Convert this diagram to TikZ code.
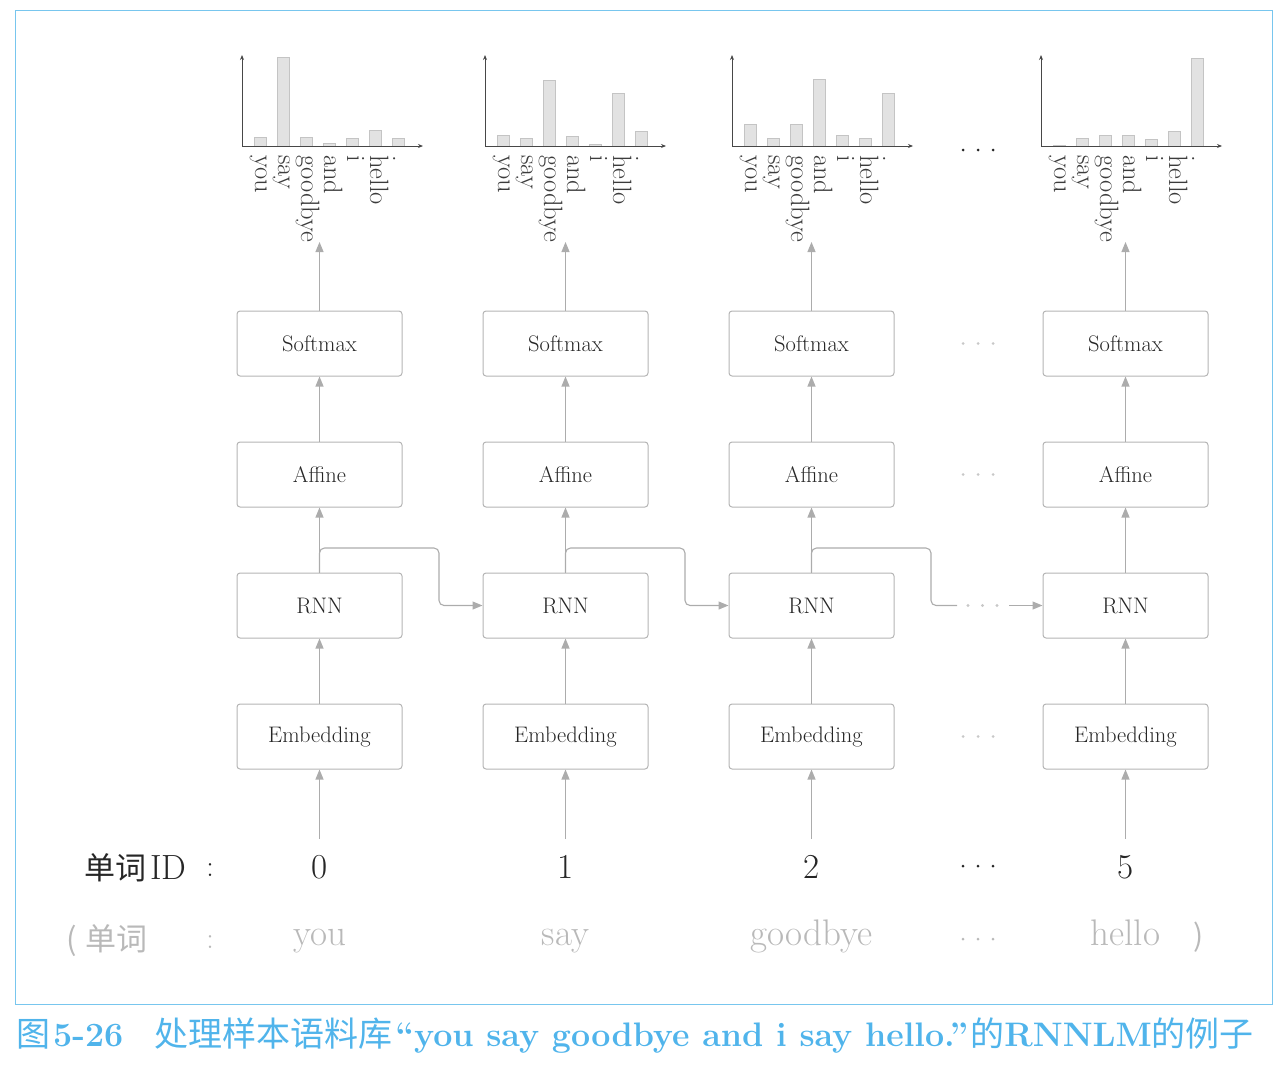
\documentclass[tikz,border=0pt]{standalone}
\usepackage{fontspec}
\newfontfamily\cjk{Noto Sans CJK SC}
\usetikzlibrary{arrows.meta}
\definecolor{boxline}{RGB}{180,180,180}
\definecolor{arr}{RGB}{172,172,172}
\definecolor{txt}{RGB}{38,38,38}
\definecolor{lite}{RGB}{185,185,185}
\definecolor{dotlite}{RGB}{200,200,200}
\definecolor{frame}{RGB}{120,198,238}
\definecolor{cap}{RGB}{80,180,235}
\definecolor{barfill}{RGB}{226,226,226}
\definecolor{barline}{RGB}{196,196,196}
\newcommand\fs[1]{\fontsize{#1}{#1}\selectfont}
\begin{document}
\begin{tikzpicture}[x=1pt,y=-1pt,
  blk/.style={draw=boxline, line width=1pt, rounded corners=3pt, minimum width=165pt,
    minimum height=65pt, inner sep=0pt, font=\fs{22.5}, text=txt},
  flow/.style={draw=arr, line width=1.1pt, -{Triangle[length=10pt,width=8pt]}},
  plain/.style={draw=arr, line width=1.1pt},
  axis/.style={draw=txt!85, line width=0.9pt, -{Stealth[length=5pt,width=4pt]}},
  bar/.style={fill=barfill, draw=barline, line width=0.8pt},
  wlab/.style={rotate=-90, anchor=west, font=\fs{26.5}, text=txt!90, inner sep=0pt,
    text height=0.69em, text depth=0.2em},
  numlab/.style={font=\fs{35}, text=txt, inner sep=0pt},
  wordlab/.style={anchor=base, font=\fs{37}, text=lite, inner sep=0pt},
]
\path[use as bounding box] (0,0) rectangle (1276,1066);
\draw[frame, line width=1.2pt] (15.5,10.5) rectangle (1272.5,1004.5);

\foreach \i/\cx/\ax/\num/\word/\hs in {
  1/319.5/242/0/you/{9,89,9,3,8,16,8},
  2/565.5/485/1/say/{11,8,66,10,2,53,15},
  3/811.5/732/2/goodbye/{22,8,22,67,11,8,53},
  4/1125.5/1041/5/hello/{1,8,11,11,7,15,88}} {
  % chart
  \foreach \h [count=\k from 0] in \hs {
    \draw[bar] (\ax+12.5+23*\k,146) rectangle ++(12,-\h);
  }
  \draw[axis] (\ax,146) -- (\ax,55);
  \draw[axis] (\ax,146) -- (\ax+181,146);
  \foreach \lab [count=\k from 0] in {you,say,goodbye,and,i,hello,.} {
    \node[wlab] (l\i-\k) at (\ax+15.5+23*\k,155) {\lab};
  }
  % blocks
  \node[blk] (sm\i)  at (\cx,343.5) {Softmax};
  \node[blk] (af\i)  at (\cx,474.5) {Affine};
  \node[blk] (rnn\i) at (\cx,605.5) {RNN};
  \node[blk] (emb\i) at (\cx,736.5) {Embedding};
  \node[numlab] (id\i) at (\cx,867) {\num};
  \node[wordlab] (w\i) at (\cx,945) {\word};
  \coordinate (top\i) at (\cx,242);
  \draw[flow] ([yshift=16pt]id\i.north) -- (emb\i.south);
  \draw[flow] (emb\i.north) -- (rnn\i.south);
  \draw[flow] (rnn\i.north) -- (af\i.south);
  \draw[flow] (af\i.north) -- (sm\i.south);
  \draw[flow] (sm\i.north) -- (top\i);
}

% recurrent connections
\coordinate (c1) at (439,548);
\coordinate (c2) at (685,548);
\coordinate (c3) at (931,548);
\coordinate (c3e) at (957,605.5);
\coordinate (c4s) at (1009,605.5);
\draw[flow, rounded corners=5pt] (rnn1.north) |- (c1) |- (rnn2.west);
\draw[flow, rounded corners=5pt] (rnn2.north) |- (c2) |- (rnn3.west);
\draw[plain, rounded corners=5pt] (rnn3.north) |- (c3) |- (c3e);
\draw[flow] (c4s) -- (rnn4.west);
\foreach \dx in {968,982.5,997} \fill[dotlite] (\dx,605.5) circle (1.6pt);

% ellipsis dots
\foreach \y/\c in {150/txt, 343.5/dotlite, 474.5/dotlite, 736.5/dotlite, 866/txt, 939/lite} {
  \foreach \dx in {-15,0,15} \fill[\c] (978+\dx,\y) circle (1.5pt);
}

% row labels
\node[anchor=base west, inner sep=0pt, text=txt] (idlab) at (84,879)
  {{\fs{31}\cjk 单词}\hspace{4pt}{\fs{35}ID}};
\node[anchor=base, inner sep=0pt, text=txt, font=\fs{30}] (idcol) at (210,876) {:};
\node[anchor=base west, inner sep=0pt, text=lite] (wdlab) at (66,950)
  {{\fs{31}\cjk (\hspace{9pt}单词}};
\node[anchor=base, inner sep=0pt, text=lite, font=\fs{30}] (wdcol) at (210,948) {:};
\node[anchor=base, inner sep=0pt, text=lite] (wdend) at (1199,946) {{\fs{30}\cjk )}};

% caption
\node[anchor=base west, inner sep=0pt, text=cap] (caption) at (16,1046)
  {{\fs{34}\cjk 图}\hspace{3pt}{\fs{34}\bfseries 5-26}\hspace{31pt}{\fs{34}\cjk 处理样本语料库}\hspace{3pt}{\fs{34}\bfseries ``you say goodbye and i say hello.''}\hspace{2pt}{\fs{34}\cjk 的}{\fs{34}\bfseries RNNLM}{\fs{34}\cjk 的例子}};
\end{tikzpicture}
\end{document}
